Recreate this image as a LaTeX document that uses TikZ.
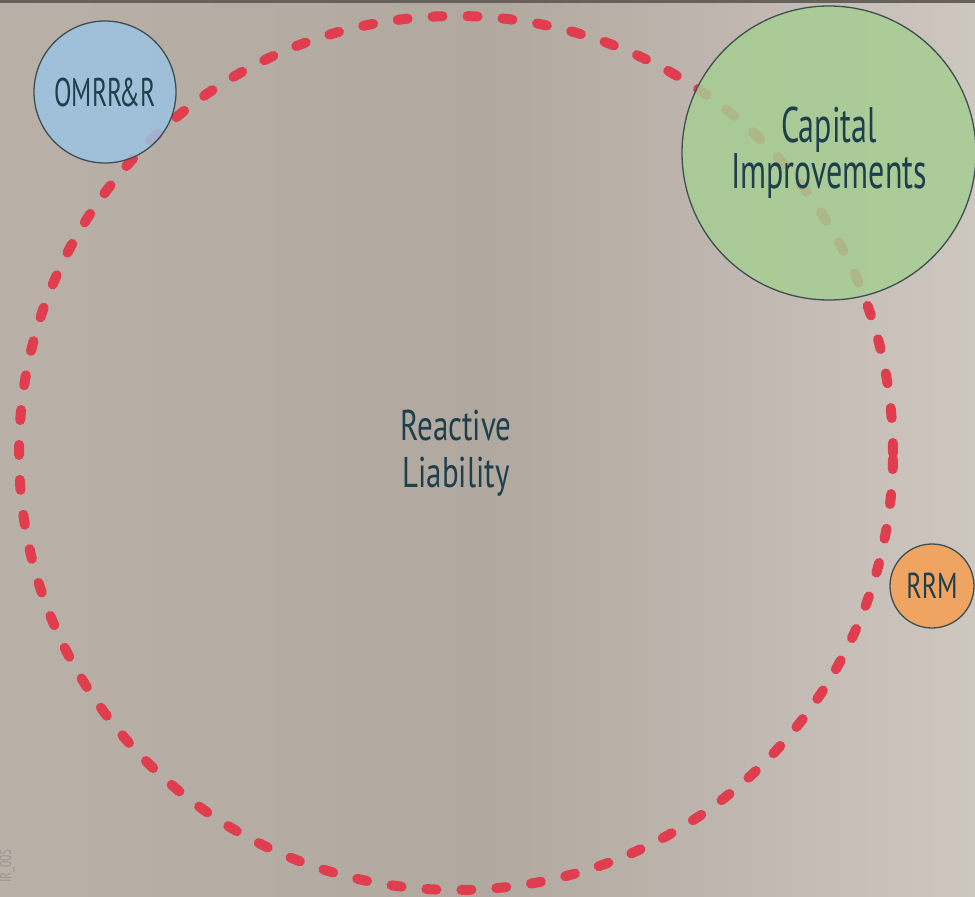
\documentclass[tikz,border=0pt]{standalone}
\usepackage{fontspec}
\setmainfont[FakeStretch=0.72]{PT Sans}
\newfontfamily\narrowfont[FakeStretch=0.64]{PT Sans}
\usetikzlibrary{positioning}

\definecolor{bgleft}{HTML}{B9B0A7}
\definecolor{bgmid}{HTML}{B1A89F}
\definecolor{bgright}{HTML}{CEC7C0}
\definecolor{topline}{HTML}{66615B}
\definecolor{txt}{HTML}{1E3F4C}
\definecolor{dashred}{HTML}{E03E4E}
\definecolor{omrfill}{HTML}{9CC3E2}
\definecolor{capfill}{HTML}{A6CD92}
\definecolor{rrmfill}{HTML}{F0A462}
\definecolor{edge}{HTML}{3E4F52}
\definecolor{tagcol}{HTML}{9C958E}

\begin{document}
\begin{tikzpicture}[x=1pt, y=-1pt,
  bubble/.style = {circle, draw=edge, line width=1.3pt, text=txt, align=center, inner sep=0pt, text opacity=1},
  ring/.style = {circle, draw=dashred, line width=10pt, line cap=round, dash pattern=on 10pt off 25pt, inner sep=0pt, text=txt, align=center}]
\useasboundingbox (0,0) rectangle (975,897);
% background
\shade[left color=bgleft, right color=bgright, middle color=bgmid] (0,0) rectangle (975,897);
\fill[topline] (0,0) rectangle (975,3);
% reactive liability ring
\node[ring, minimum size=874pt, font=\fontsize{43}{47}\selectfont] (react) at (456,453) {Reactive\\Liability};
% bubbles
\node[bubble, fill=omrfill, fill opacity=0.85, minimum size=142pt, font=\narrowfont\fontsize{40}{44}\selectfont] (omr) at (105,92) {OMRR\kern-3pt\&R};
\node[bubble, fill=capfill, fill opacity=0.85, minimum size=294pt, font=\narrowfont\fontsize{50}{40}\selectfont] (cap) at (829,153) {Capital\\Improvements};
\node[bubble, fill=rrmfill, minimum size=84pt, font=\fontsize{36}{40}\selectfont] (rrm) at (932,586) {RRM};
% file tag
\node[rotate=90, text=tagcol, font=\fontsize{16}{18}\selectfont] (tag) at (7,866) {IR\_005};
\end{tikzpicture}
\end{document}
